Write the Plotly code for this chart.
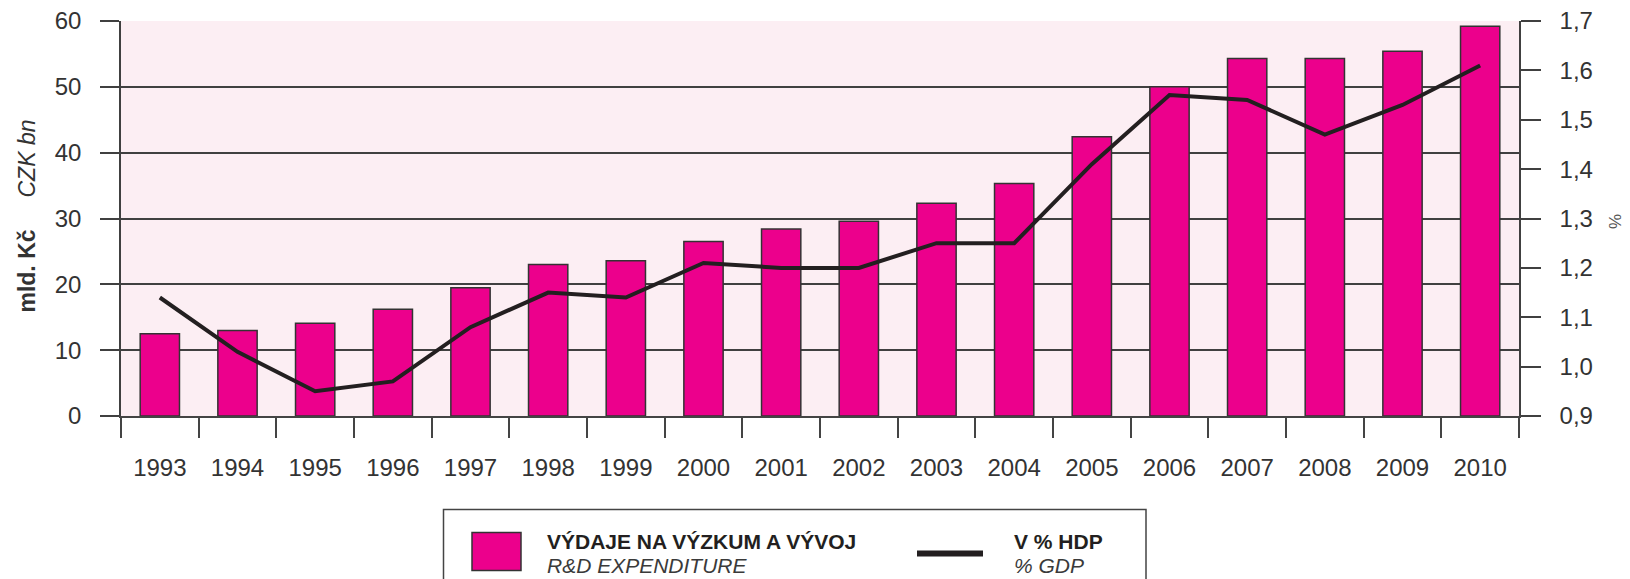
import plotly.graph_objects as go

# ---- data ----
years = [str(y) for y in range(1993, 2011)]
rd_expenditure = [12.5, 13.0, 14.1, 16.2, 19.5, 23.0, 23.6, 26.5, 28.4, 29.6,
                  32.3, 35.3, 42.4, 50.0, 54.3, 54.3, 55.4, 59.2]
pct_gdp = [1.14, 1.03, 0.95, 0.97, 1.08, 1.15, 1.14, 1.21, 1.20, 1.20,
           1.25, 1.25, 1.41, 1.55, 1.54, 1.47, 1.53, 1.61]
left_tickvals = [0, 10, 20, 30, 40, 50, 60]
right_tickvals = [0.9, 1.0, 1.1, 1.2, 1.3, 1.4, 1.5, 1.6, 1.7]
right_ticktext = ["0,9", "1,0", "1,1", "1,2", "1,3", "1,4", "1,5", "1,6", "1,7"]
bar_name = "VÝDAJE NA VÝZKUM A VÝVOJ"
bar_name_en = "R&D EXPENDITURE"
line_name = "V % HDP"
line_name_en = "% GDP"
y_title_cz = "mld. Kč"
y_title_en = "CZK bn"
y2_title = "%"

# ---- layout geometry (pixels) ----
W, H = 1630, 579
L, R, T, B = 121, 1519, 21, 416


def px2x(px):
    return (px - L) / (R - L)


def px2y(py):
    return (B - py) / (B - T)


MAGENTA = "#EC008C"
DARK = "#231F20"
GRID = "#404040"
TEXT = "#333333"
BG = "#FCEEF3"
SANS = "Liberation Sans, Arial, Helvetica, sans-serif"
TICKFONT = dict(family=SANS, size=24, color=TEXT)

fig = go.Figure()
fig.add_trace(go.Bar(
    x=years, y=rd_expenditure, name=bar_name,
    marker=dict(color=MAGENTA, line=dict(color="#333333", width=1.5)),
    yaxis="y", showlegend=False,
))
fig.add_trace(go.Scatter(
    x=years, y=pct_gdp, name=line_name, mode="lines",
    line=dict(color=DARK, width=4),
    yaxis="y2", showlegend=False,
))

fig.update_layout(
    width=W, height=H,
    margin=dict(l=L, r=W - R, t=T, b=H - B, autoexpand=False),
    paper_bgcolor="white",
    plot_bgcolor=BG,
    bargap=0.494,
    separators=", ",
    xaxis=dict(
        type="category", tickson="boundaries", ticks="outside", ticklen=20,
        tickcolor="#444444", tickwidth=1.5, showgrid=False,
        showline=True, linecolor="#444444", linewidth=1.5,
        tickfont=TICKFONT, ticklabelstandoff=29, automargin=False,
        range=[-0.5, 17.5],
    ),
    yaxis=dict(
        range=[0, 60], tickvals=left_tickvals, ticks="outside", ticklen=19,
        tickcolor=GRID, tickwidth=1.5, showgrid=True, gridcolor=GRID, gridwidth=1.5,
        zeroline=False, showline=True, linecolor=GRID, linewidth=1.5,
        tickfont=TICKFONT, ticklabelstandoff=14, automargin=False,
    ),
    yaxis2=dict(
        range=[0.9, 1.7], tickvals=right_tickvals, ticktext=right_ticktext,
        overlaying="y", side="right", ticks="outside", ticklen=20,
        tickcolor=GRID, tickwidth=1.5, showgrid=False, zeroline=False,
        showline=True, linecolor=GRID, linewidth=1.5,
        tickfont=TICKFONT, ticklabelstandoff=14, automargin=False,
    ),
)

# axis titles
fig.add_annotation(
    xref="paper", yref="paper", x=px2x(27), y=0.505, xanchor="center", yanchor="middle",
    textangle=-90, showarrow=False,
    text=f"<b>{y_title_cz}</b>\u00a0\u00a0\u00a0\u00a0\u00a0<i>{y_title_en}</i>",
    font=dict(family=SANS, size=23, color=TEXT),
)
fig.add_annotation(
    xref="paper", yref="paper", x=px2x(1615), y=px2y(222), xanchor="center", yanchor="middle",
    textangle=-90, showarrow=False, text=y2_title,
    font=dict(family=SANS, size=17, color="#555555"),
)

# legend (drawn manually)
fig.add_shape(type="rect", xref="paper", yref="paper",
              x0=px2x(443.5), x1=px2x(1146), y0=px2y(509.5), y1=px2y(600),
              line=dict(color="#444444", width=1.5), fillcolor="rgba(0,0,0,0)", layer="above")
fig.add_shape(type="rect", xref="paper", yref="paper",
              x0=px2x(472), x1=px2x(521), y0=px2y(532.5), y1=px2y(570.5),
              line=dict(color="#333333", width=1.5), fillcolor=MAGENTA)
fig.add_shape(type="line", xref="paper", yref="paper",
              x0=px2x(917), x1=px2x(983), y0=px2y(553.5), y1=px2y(553.5),
              line=dict(color=DARK, width=6))
for txt, x, y, bold in [(bar_name, 545, 541, True), (bar_name_en, 545, 565, False),
                        (line_name, 1012, 541, True), (line_name_en, 1012, 565, False)]:
    fig.add_annotation(
        xref="paper", yref="paper", x=px2x(x), y=px2y(y), xanchor="left", yanchor="middle",
        showarrow=False, text=(f"<b>{txt}</b>" if bold else f"<i>{txt}</i>"),
        font=dict(family=SANS, size=21, color=(DARK if bold else "#3a3a3a")),
    )

fig.write_html(
    "out.html",
    config={"displayModeBar": False},
    post_script="document.body.style.margin='0';document.body.style.overflow='hidden';",
)
